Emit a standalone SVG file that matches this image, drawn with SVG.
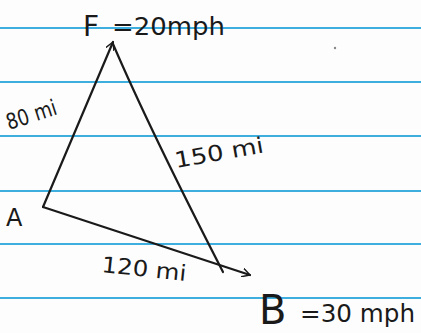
<svg xmlns="http://www.w3.org/2000/svg" width="421" height="333" viewBox="0 0 421 333">
<defs>
<style>
.rule{stroke:#2aa6dc;stroke-width:2.2;opacity:0.9}
.edge{stroke:#1a1a1a;stroke-width:2.2;fill:none;stroke-linecap:round;stroke-linejoin:round}
.t{font-family:"DejaVu Sans",sans-serif;fill:#1a1a1a}
</style>
<marker id="arr" viewBox="0 0 10 10" refX="9" refY="5" markerWidth="9" markerHeight="9" orient="auto" markerUnits="userSpaceOnUse">
<path d="M0,0 L9,5 L0,10" fill="none" stroke="#1a1a1a" stroke-width="1.6"/>
</marker>
</defs>
<rect width="421" height="333" fill="#fdfdfd"/>
<g id="paper">
<line class="rule" x1="0" y1="28" x2="421" y2="28"/>
<line class="rule" x1="0" y1="82" x2="421" y2="82"/>
<line class="rule" x1="0" y1="136" x2="421" y2="136"/>
<line class="rule" x1="0" y1="191" x2="421" y2="191"/>
<line class="rule" x1="0" y1="244" x2="421" y2="244"/>
<line class="rule" x1="0" y1="298" x2="421" y2="298"/>
<circle cx="335" cy="48" r="1.2" fill="#888"/>
</g>
<g id="connectors">
<path class="edge" d="M43,207 L113,42" marker-end="url(#arr)"/>
<path class="edge" d="M43,207 L250,275" marker-end="url(#arr)"/>
<path class="edge" d="M113,44 Q150,130 223,272"/>
</g>
<g id="node-F"><text class="t" x="83" y="36" font-size="28">F</text><text class="t" x="112" y="35" font-size="24" textLength="113" lengthAdjust="spacingAndGlyphs">=20mph</text></g>
<g id="node-A"><text class="t" x="6" y="226" font-size="24">A</text></g>
<g id="node-B"><text class="t" x="259" y="324" font-size="40">B</text><text class="t" x="300" y="322" font-size="24" textLength="115" lengthAdjust="spacingAndGlyphs">=30 mph</text></g>
<g id="label-80"><text class="t" x="9" y="130" font-size="22" transform="rotate(-18 9 130)" textLength="52" lengthAdjust="spacingAndGlyphs">80 mi</text></g>
<g id="label-150"><text class="t" x="176" y="168" font-size="22" transform="rotate(-10 176 168)" textLength="90" lengthAdjust="spacingAndGlyphs">150 mi</text></g>
<g id="label-120"><text class="t" x="101" y="272" font-size="22" transform="rotate(6 101 272)" textLength="85" lengthAdjust="spacingAndGlyphs">120 mi</text></g>
</svg>
